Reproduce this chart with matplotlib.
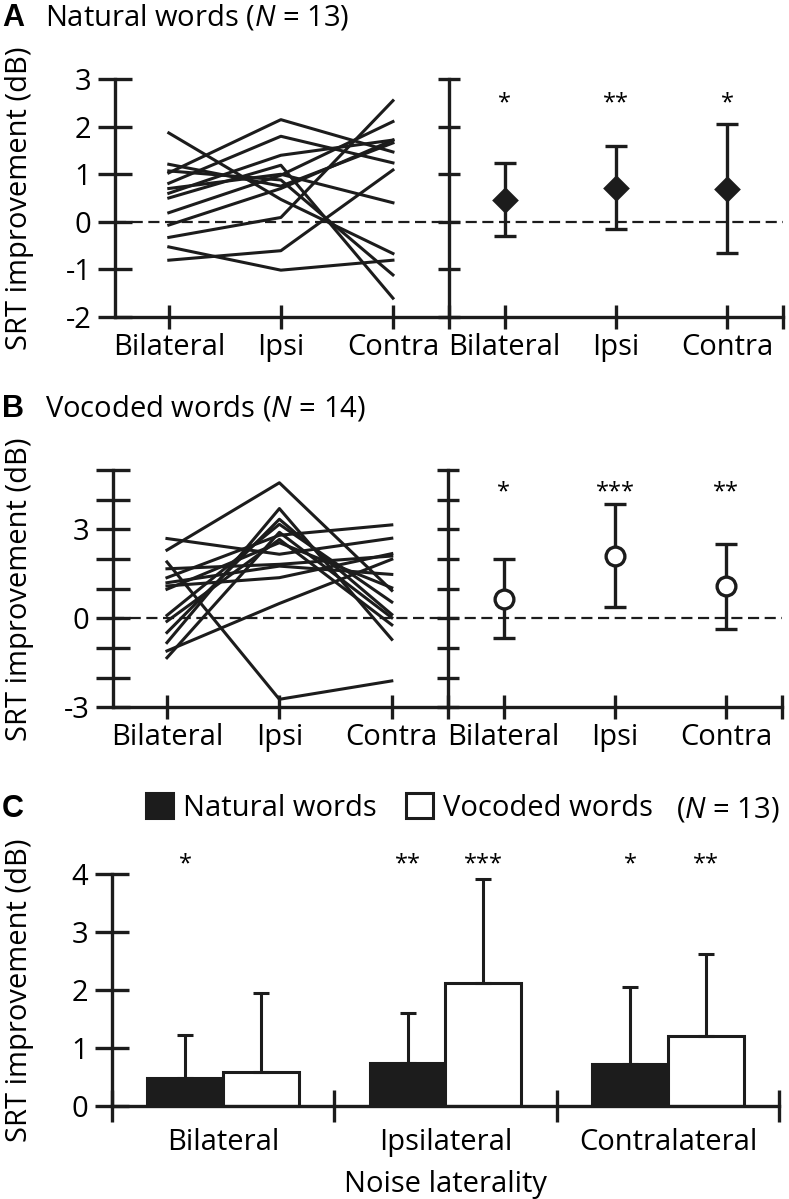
import numpy as np
import matplotlib
matplotlib.use('Agg')
import matplotlib.pyplot as plt

plt.rcParams['font.family'] = ['Open Sans', 'DejaVu Sans']
plt.rcParams['mathtext.fontset'] = 'custom'
plt.rcParams['mathtext.rm'] = 'Open Sans'
plt.rcParams['mathtext.it'] = 'Open Sans:italic'

conds = ['Bilateral', 'Ipsi', 'Contra']
groups = ['Bilateral', 'Ipsilateral', 'Contralateral']

# A: natural words, individual listeners (N = 13)
nat_bil = [1.87, 1.21, 1.07, 1.03, 0.81, 0.70, 0.60, 0.50, 0.19, -0.07, -0.33, -0.53, -0.81]
nat_ipsi = [0.47, 0.75, 0.88, 2.15, 1.80, 1.00, 1.40, 1.19, 0.98, 0.70, 0.09, -1.02, -0.61]
nat_contra = [-0.67, 1.66, -1.12, 1.47, 1.24, 0.40, 1.72, -1.61, 2.11, 1.72, 2.55, -0.81, 1.09]
nat_mean = [0.46, 0.72, 0.70]
nat_sd = [0.77, 0.88, 1.35]
nat_stars = ['*', '**', '*']

# B: vocoded words, individual listeners (N = 14)
voc_bil = [2.69, 2.30, 1.90, 1.67, 1.37, 1.20, 1.09, 0.98, 0.10, -0.10, -0.48, -0.82, -1.10, -1.33]
voc_ipsi = [2.16, 4.57, -2.73, 1.82, 2.80, 1.76, 1.37, 2.55, 3.17, 2.66, 3.34, 3.70, 0.50, 2.90]
voc_contra = [2.70, 0.94, -2.11, 2.10, 3.15, 1.48, 2.18, 1.03, 0.55, -0.22, 0.13, -0.71, 1.99, 0.02]
voc_mean = [0.66, 2.11, 1.08]
voc_sd = [1.33, 1.73, 1.44]
voc_stars = ['*', '***', '**']

# C: both conditions (N = 13)
c_nat = [0.48, 0.74, 0.72]
c_nat_sd = [0.74, 0.86, 1.33]
c_voc = [0.58, 2.12, 1.20]
c_voc_sd = [1.37, 1.79, 1.42]
c_nat_stars = ['*', '**', '*']
c_voc_stars = ['', '***', '**']

K = '#1c1c1c'
FS = 21
SFS = 17
W, H = 789, 1199

fig = plt.figure(figsize=(7.89, 11.99), dpi=100)


def box(x0, x1, ytop, ybot):
    return [x0 / W, 1 - ybot / H, (x1 - x0) / W, (ybot - ytop) / H]


def style(ax, ylen):
    for s in ['top', 'right']:
        ax.spines[s].set_visible(False)
    for s in ['left', 'bottom']:
        ax.spines[s].set_linewidth(2.4)
        ax.spines[s].set_color(K)
    ax.tick_params(axis='y', direction='inout', length=ylen, width=2.4, color=K,
                   labelsize=FS, pad=5)
    ax.tick_params(axis='x', direction='inout', length=17, width=2.4, color=K,
                   labelsize=FS, pad=3)


def line_panel(axl, axr, bil, ipsi, contra, ylim, yticks, ylabels,
               mean, sd, marker, ms, mfc, stars, star_y):
    x = [1, 2, 3]
    for a, b, c in zip(bil, ipsi, contra):
        axl.plot(x, [a, b, c], color=K, lw=2.2, clip_on=False)
    for ax in (axl, axr):
        ax.axhline(0, color=K, lw=1.6, dashes=(5, 2.5), zorder=1)
        ax.set_ylim(*ylim)
        ax.set_yticks(yticks)
    style(axl, 24)
    style(axr, 16)
    axl.set_xlim(0.52, 3.5)
    axl.set_xticks(x)
    axl.set_xticklabels(conds)
    axl.set_yticklabels(ylabels)
    axr.set_xlim(0.5, 3.5)
    axr.set_xticks([0.5, 1, 2, 3, 3.5])
    axr.set_xticklabels([''] + conds + [''])
    axr.set_yticklabels([])
    axr.errorbar(x, mean, yerr=sd, fmt=marker, ms=ms, mfc=mfc, mec=K, mew=2.4,
                 ecolor=K, elinewidth=2.4, capsize=8, capthick=2.4, zorder=3)
    for xi, s in zip(x, stars):
        axr.text(xi, star_y, s, ha='center', va='center', fontsize=SFS)


# panel A
axA1 = fig.add_axes(box(115, 449, 79.3, 316.7))
axA2 = fig.add_axes(box(449, 783, 79.3, 316.7))
line_panel(axA1, axA2, nat_bil, nat_ipsi, nat_contra, (-2, 3), range(-2, 4),
           ['-2', '-1', '0', '1', '2', '3'], nat_mean, nat_sd, 'D', 11.5, K,
           nat_stars, 2.50)

# panel B
axB1 = fig.add_axes(box(113, 448, 470, 707.3))
axB2 = fig.add_axes(box(448, 782, 470, 707.3))
line_panel(axB1, axB2, voc_bil, voc_ipsi, voc_contra, (-3, 5), range(-3, 6),
           ['-3', '', '', '0', '', '', '3', '', ''], voc_mean, voc_sd, 'o', 13.5,
           'white', voc_stars, 4.25)

# panel C
axC = fig.add_axes(box(111.7, 779.3, 874, 1106))
xg = np.arange(3)
w = 0.34
ekw = dict(elinewidth=2.2, capthick=2.2, ecolor=K, capsize=6)
axC.bar(xg - w / 2, c_nat, w, color=K, edgecolor=K, lw=2.2,
        yerr=[np.zeros(3), c_nat_sd], error_kw=ekw, label='Natural words')
axC.bar(xg + w / 2, c_voc, w, color='white', edgecolor=K, lw=2.2,
        yerr=[np.zeros(3), c_voc_sd], error_kw=ekw, label='Vocoded words')
for i in range(3):
    axC.text(xg[i] - w / 2, 4.16, c_nat_stars[i], ha='center', va='center', fontsize=SFS)
    axC.text(xg[i] + w / 2, 4.16, c_voc_stars[i], ha='center', va='center', fontsize=SFS)
axC.set_xlim(-0.5, 2.5)
axC.set_ylim(0, 4)
axC.set_yticks(range(5))
style(axC, 24)
axC.tick_params(axis='x', length=23)
axC.set_xticks([-0.5, 0.5, 1.5, 2.5])
axC.set_xticklabels([])
axC.set_xticks(xg, minor=True)
axC.set_xticklabels(groups, minor=True)
axC.tick_params(axis='x', which='minor', length=0, pad=16, labelsize=FS)
axC.set_xlabel('Noise laterality', fontsize=FS, labelpad=9)
axC.legend(loc='center left', bbox_to_anchor=(146 / W, 1 - 808 / H),
           bbox_transform=fig.transFigure, ncol=2, frameon=False, fontsize=FS,
           handlelength=0.92, handleheight=0.92, handletextpad=0.35,
           columnspacing=1.0, borderpad=0, borderaxespad=0)

# panel labels, titles and y labels
for lab, yb in (('A', 26), ('B', 417), ('C', 817)):
    fig.text(2 / W, 1 - yb / H, lab, fontsize=22, fontweight='bold',
             family='Liberation Sans', va='baseline')
fig.text(45 / W, 1 - 26 / H, 'Natural words ($N$ = 13)', fontsize=FS, va='baseline')
fig.text(45 / W, 1 - 417 / H, 'Vocoded words ($N$ = 14)', fontsize=FS, va='baseline')
fig.text(676 / W, 1 - 817 / H, '($N$ = 13)', fontsize=FS, va='baseline')
for yc in (198, 589, 990):
    fig.text(20 / W, 1 - yc / H, 'SRT improvement (dB)', fontsize=FS, rotation=90,
             ha='center', va='center')

fig.savefig('out.png', dpi=100)
